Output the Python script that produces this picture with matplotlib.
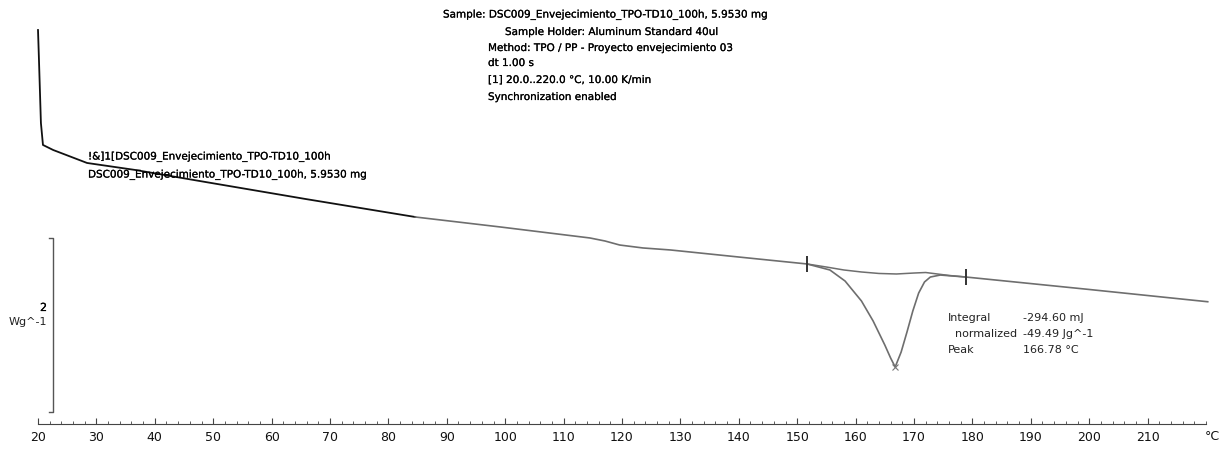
import numpy as np
import matplotlib
matplotlib.use("Agg")
import matplotlib.pyplot as plt
import matplotlib.transforms as mtransforms
import matplotlib.patheffects as pe
from matplotlib.ticker import FixedLocator

plt.rcParams['font.family'] = ['DejaVu Sans']

# DSC run: temperature (°C) and heat flow (W/g)
temp = [20.0, 20.15, 20.5, 20.85, 22.6, 28.4, 36.7, 48.7, 65.8, 84.6,
        99.2, 114.5, 117.1, 119.6, 123.6, 128.3, 140.0, 151.7,
        155.6, 158.2, 161.0, 163.0, 165.0, 166.0, 166.78,
        167.8, 168.8, 169.8, 170.8, 171.8, 172.8, 174.5, 178.9,
        200.0, 220.3]
heat_flow = [3.103, 2.793, 2.034, 1.782, 1.724, 1.575, 1.494, 1.356, 1.161, 0.954,
             0.839, 0.713, 0.678, 0.632, 0.598, 0.575, 0.494, 0.414,
             0.345, 0.218, -0.011, -0.241, -0.517, -0.667, -0.770,
             -0.598, -0.368, -0.126, 0.080, 0.207, 0.264, 0.287, 0.264,
             0.121, -0.020]

# integration baseline under the melting peak
base_temp = [151.7, 155.0, 158.0, 161.0, 164.0, 167.0, 170.0, 172.0, 174.0, 176.0, 178.9]
base_hf = [0.414, 0.379, 0.345, 0.322, 0.305, 0.299, 0.310, 0.316, 0.299, 0.282, 0.264]

limits = [151.7, 178.9]
peak_temp = 166.78
integral_mj = -294.60
normalized = -49.49
scale_len = 2  # W/g

header = ["Sample: DSC009_Envejecimiento_TPO-TD10_100h, 5.9530 mg",
          "Sample Holder: Aluminum Standard 40ul",
          "Method: TPO / PP - Proyecto envejecimiento 03",
          "dt 1.00 s",
          "[1] 20.0..220.0 °C, 10.00 K/min",
          "Synchronization enabled"]
curve_label = ["!&]1[DSC009_Envejecimiento_TPO-TD10_100h",
               "DSC009_Envejecimiento_TPO-TD10_100h, 5.9530 mg"]

W, H = 1220, 450
fig = plt.figure(figsize=(W / 100, H / 100), dpi=100)
ax = fig.add_axes([0, 0, 1, 1])
ax.set_xlim(13.493, 222.40)
ax.set_ylim(-1.724, 3.448)

# slightly heavier text
heavy = [pe.withStroke(linewidth=0.15, foreground='black')]

temp = np.array(temp)
heat_flow = np.array(heat_flow)

# curve: first part black, rest grey
split = temp <= 84.6
ax.plot(temp[split], heat_flow[split], color='#111111', lw=1.3)
ax.plot(temp[temp >= 84.6], heat_flow[temp >= 84.6], color='#6e6e6e', lw=1.2)
ax.plot(base_temp, base_hf, color='#6e6e6e', lw=1.1)

# integration limits and peak mark
lim_hf = np.interp(limits, temp, heat_flow)
ax.plot(limits, lim_hf, ls='none', marker='|', ms=11, mew=1.4, color='#333333')
ax.plot([peak_temp], [np.interp(peak_temp, temp, heat_flow)], ls='none',
        marker='x', ms=4, mew=0.8, color='#777777')

# vertical scale bar
sx, sy = 22.57, 0.713
ax.plot([sx - 0.7, sx, sx, sx - 0.7], [sy, sy, sy - scale_len, sy - scale_len],
        color='#555555', lw=1.0)
mid = sy - scale_len / 2
ax.text(sx - 1.0, mid + 0.195, str(scale_len), ha='right', va='center',
        fontsize=8, path_effects=heavy)
ax.text(sx - 1.0, mid + 0.034, "Wg^-1", ha='right', va='center',
        fontsize=8, color='#222222')

# temperature axis
for s in ['top', 'left', 'right']:
    ax.spines[s].set_visible(False)
ax.spines['bottom'].set_position(('data', -1.425))
ax.spines['bottom'].set_bounds(20, 220)
ax.spines['bottom'].set_color('#444444')
ax.set_xticks(np.arange(20, 211, 10))
ax.xaxis.set_minor_locator(FixedLocator(np.arange(20, 221, 2)))
ax.tick_params(axis='x', which='major', direction='in', length=4, color='#444444',
               labelsize=9, pad=5, labelcolor='#111111')
ax.tick_params(axis='x', which='minor', direction='in', length=2.5, color='#444444')
ax.set_yticks([])
trans = mtransforms.blended_transform_factory(ax.transData, ax.transAxes)
ax.text(221.0, 1 - 437 / H, "°C", transform=trans, ha='center', va='center',
        fontsize=9, color='#111111')

# method header
header_pos = [(443, 15), (505, 32), (488, 48), (488, 63), (488, 80), (488, 97)]
for txt, (px, py) in zip(header, header_pos):
    fig.text(px / W, 1 - py / H, txt, ha='left', va='center', fontsize=7.5,
             path_effects=heavy)

# curve name
fig.text(88 / W, 1 - 157 / H, curve_label[0], ha='left', va='center', fontsize=7.5,
         path_effects=heavy)
fig.text(88 / W, 1 - 175 / H, curve_label[1], ha='left', va='center', fontsize=7.5,
         path_effects=heavy)

# peak evaluation results
rows = [("Integral", f"{integral_mj:.2f} mJ"),
        ("  normalized", f"{normalized:.2f} Jg^-1"),
        ("Peak", f"{peak_temp:.2f} °C")]
for i, (name, val) in enumerate(rows):
    y = 1 - (318 + 16 * i) / H
    fig.text(948 / W, y, name, ha='left', va='center', fontsize=8, color='#222222')
    fig.text(1023 / W, y, val, ha='left', va='center', fontsize=8, color='#222222')

fig.savefig("out.png", dpi=100, facecolor='white')
